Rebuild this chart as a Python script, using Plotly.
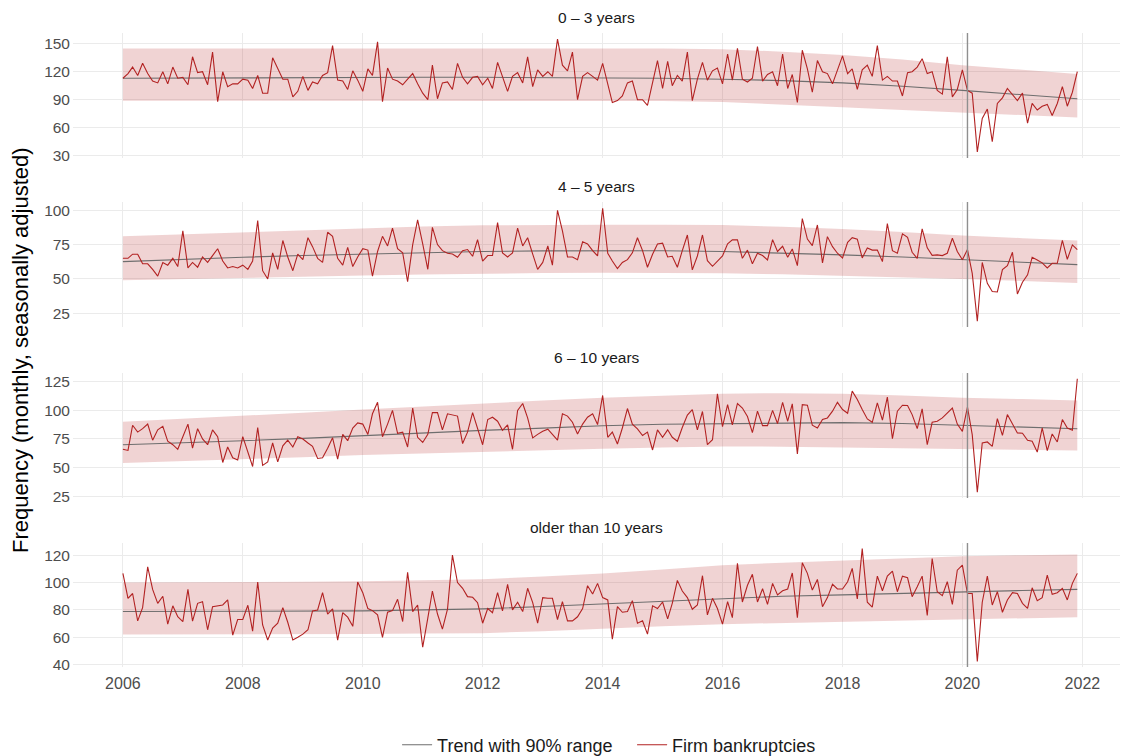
import pandas as pd
import plotly.graph_objects as go
from plotly.subplots import make_subplots

# Monthly observation dates, Jan 2006 - Dec 2021
months = pd.date_range("2006-01-01", periods=192, freq="MS")

# Knot dates at which the fitted trend and its 90% range are given
trend_dates = [f"{y}-01-01" for y in range(2006, 2022)] + ["2021-12-01"]

panel_titles = ["0 – 3 years", "4 – 5 years", "6 – 10 years", "older than 10 years"]

# Firm bankruptcies by firm age (monthly, seasonally adjusted)
bk_age_0_3 = [
    113, 118, 125, 116, 129, 118, 110, 108, 120, 107, 125, 113,
    114, 106, 136, 119, 120, 106, 141, 88, 120, 104, 107, 107,
    112, 111, 102, 116, 97, 97, 135, 124, 112, 112, 93, 99,
    115, 100, 109, 107, 116, 119, 148, 111, 110, 101, 121, 111,
    99, 123, 116, 152, 88, 124, 112, 110, 106, 112, 118, 107,
    97, 90, 127, 91, 108, 109, 101, 129, 114, 107, 114, 115,
    106, 113, 102, 130, 114, 99, 115, 119, 108, 136, 104, 122,
    115, 120, 115, 155, 127, 121, 141, 90, 115, 119, 115, 111,
    129, 108, 87, 89, 94, 108, 110, 90, 90, 84, 108, 132,
    102, 131, 105, 116, 110, 141, 89, 112, 130, 111, 121, 124,
    107, 139, 111, 145, 112, 109, 113, 147, 110, 117, 120, 105,
    139, 102, 117, 87, 143, 123, 98, 132, 120, 118, 107, 122,
    137, 118, 123, 101, 122, 127, 115, 148, 111, 115, 110, 110,
    94, 119, 120, 125, 134, 118, 120, 100, 96, 136, 93, 101,
    122, 100, 97, 34, 70, 80, 45, 86, 92, 102, 96, 89,
    97, 65, 86, 79, 83, 85, 73, 86, 104, 83, 98, 120,
]
bk_age_4_5 = [
    65, 65, 68, 68, 61, 61, 57, 52, 62, 60, 65, 59,
    85, 58, 62, 58.5, 66, 62, 67, 72, 63, 58, 59, 58,
    60, 57, 63, 92.5, 56, 50, 69, 57, 78, 66, 56, 68,
    64, 80, 73.5, 65, 62, 84, 81, 65, 60, 73, 59, 66,
    72, 71, 52, 70, 81, 74, 87, 72, 69, 48, 75, 93,
    75.5, 57, 87.6, 75, 70.6, 68.7, 68.2, 65.8, 70.6, 71.4, 66.5, 78.6,
    63, 67, 67, 91, 69, 66, 69, 87, 74, 80, 68, 57,
    62, 74, 60, 100, 85, 66, 66, 64, 77, 75.5, 70.6, 66.7,
    101.5, 68.7, 63, 57.5, 62, 64, 69, 80, 70.6, 58.5, 68, 75.5,
    76, 66, 66.5, 58.5, 70.6, 82, 56.6, 66.7, 82, 63.3, 59.2, 63,
    66.7, 75.5, 78.4, 78.4, 65, 71, 61, 68.7, 67, 63.8, 78.6, 70,
    73.8, 65.8, 71.8, 59.7, 93.9, 79, 74.3, 89.3, 61.7, 80.8, 73.5, 68.7,
    65.3, 76.7, 80, 79, 65.3, 72.6, 71, 71, 62.6, 90.3, 70.6, 68.7,
    82.8, 80.3, 69.4, 65, 86.4, 72.6, 67.2, 67.5, 67, 68.7, 79.6, 70,
    64, 71.4, 54, 19.2, 62, 46.8, 40.8, 40.5, 56.8, 59.7, 69.4, 39,
    47.6, 53, 65.8, 63.8, 61.7, 58, 61.4, 61.4, 78, 64.3, 74.8, 71.4,
]
bk_age_6_10 = [
    66, 65, 87, 81, 84, 88, 74, 83, 86, 73, 70, 66,
    77, 88, 67, 84, 75, 70, 83, 77, 54.5, 68, 58.6, 56.6,
    77, 64, 51, 85, 52, 55, 71.5, 55, 69, 74, 68, 77,
    75, 71.5, 68.6, 58, 58.6, 67, 76, 57.5, 79, 73.5, 84.6, 89,
    88, 79, 97, 107, 77, 88, 100, 80, 81, 68, 102, 76.5,
    72, 79, 98, 98, 83, 97, 96, 95, 71, 81, 98, 85,
    70, 92, 94, 90.5, 82.6, 87.3, 66, 100, 106, 93.4, 76, 79,
    81.7, 83.5, 79, 74, 97, 95, 89.6, 79.4, 88, 94, 97, 87.6,
    113, 76.5, 81, 70.6, 84.6, 101.6, 88, 83.8, 78, 81, 65.4, 83,
    76.5, 83, 76.5, 73, 85, 95.8, 100.7, 83, 99, 70, 74.4, 114.5,
    85.8, 105, 87.3, 106, 102, 94.6, 80.6, 99.3, 86.7, 86.7, 100, 88.5,
    107, 90.5, 105.7, 62, 105, 104.5, 87, 84.6, 92, 93.4, 99.3, 107,
    100.7, 97.5, 116.8, 109.5, 100.7, 92.5, 89.6, 106.6, 91.4, 111.5, 75.3, 99.3,
    104.5, 104.2, 96.3, 84, 101.3, 70, 89.6, 90.5, 93.4, 97.8, 102, 88,
    81.7, 102.8, 78.8, 28.5, 71.5, 72.4, 68.6, 92.8, 78.2, 96.3, 87.6, 80.3,
    80, 73.8, 73, 63.6, 84.6, 64.8, 79.4, 72.4, 92, 84.6, 82.6, 127.6,
]
bk_age_over_10 = [
    106.7, 88.5, 92, 72, 81.7, 111.5, 95, 84.8, 90, 69.6, 83, 75,
    71.5, 95, 71.8, 84.8, 86, 65.5, 82.4, 83, 83.6, 87.3, 61.6, 73,
    73, 83.4, 64.5, 100.4, 69, 58, 66.7, 70.3, 81.7, 71, 58, 60,
    62.3, 65.5, 79.3, 80, 92.6, 77, 80.7, 58, 78, 74.7, 68, 100.4,
    92.6, 81, 79.5, 76.4, 60, 78.3, 79.5, 87.8, 71.5, 107.4, 78.8, 83.6,
    52.8, 74, 93.8, 77, 66, 80.5, 120, 100, 95.8, 89.7, 89.2, 85.3,
    70.3, 81, 78, 92.6, 79.3, 98.7, 80, 85.6, 78.8, 95.8, 85.3, 70.3,
    89, 88.5, 88.5, 73, 86, 72, 72, 75, 81, 97.7, 91.6, 99.4,
    89, 87.3, 58.7, 82.4, 78.3, 78.8, 86.8, 70.3, 72, 62.3, 83, 81,
    85.8, 73.5, 84.8, 101.6, 93.8, 89, 80.5, 83.6, 105, 76.4, 88.5, 81,
    69.6, 86, 74.4, 114, 85.8, 98, 106, 85.8, 95.5, 84, 99.4, 91,
    94, 95.3, 107, 74.4, 114.4, 106.7, 94.5, 102.3, 82.4, 89, 98.7, 95.3,
    95.3, 100.6, 110.3, 88, 124.8, 85.6, 82, 104.7, 94, 104.7, 108.4, 93.3,
    104.7, 103.5, 89.7, 97, 104.7, 76, 117.6, 93.3, 90.4, 100.6, 84, 109,
    112.7, 92, 92, 42.4, 85.6, 104.7, 83.6, 93.3, 78.3, 87.3, 92.6, 92,
    84.8, 81.2, 96.2, 86.8, 89, 105.5, 91.4, 92.6, 95.8, 87.3, 99.4, 106.7,
]

# Fitted trend with lower / upper bound of the 90% range
trend_0_3 = [113, 113.3, 113.6, 113.8, 114, 114, 114, 113.8, 113.5, 113, 112, 110.5, 108, 104.5, 100, 95.5, 91]
upper_0_3 = [145, 145, 145.2, 145.3, 145.4, 145.4, 145.4, 145.3, 145.2, 145, 144, 141.5, 138, 133, 127, 122, 117.5]
lower_0_3 = [89, 89, 89, 89.1, 89.2, 89.2, 89.2, 89, 88.8, 88.5, 87.5, 85, 82, 79, 76, 73.5, 71]

trend_4_5 = [62.6, 64.3, 65.8, 67.1, 68.2, 69.2, 70, 70.4, 70.6, 70.5, 70, 69, 67.5, 66, 64, 62.2, 60.4]
upper_4_5 = [81, 82.5, 84, 85.6, 87.1, 88.2, 89, 89.4, 89.5, 89.5, 89.3, 88, 86.4, 84.2, 81.6, 79.7, 77.9]
lower_4_5 = [49, 50, 51, 51.8, 52.5, 53.2, 54, 54.3, 54.5, 54.5, 54.2, 53.4, 52.4, 51.2, 50, 48.5, 47]

trend_6_10 = [70, 71.5, 73.5, 75.5, 78, 80.5, 82.5, 84.5, 86.5, 87.8, 88.5, 89, 89.3, 88.5, 87, 85.5, 84]
upper_6_10 = [90, 92.5, 95, 98, 100.7, 103.5, 106, 108.5, 111, 113, 114.5, 115, 114.5, 113, 111, 109.8, 108.6]
lower_6_10 = [54, 55.5, 57, 59, 61, 62.5, 63.5, 65, 66.5, 67.5, 68.5, 68.3, 67.7, 67, 66.5, 65.8, 65]

trend_over_10 = [78.8, 78.8, 78.8, 79, 79.3, 80, 80.8, 82.5, 84.5, 86.5, 88.5, 90, 91, 92.2, 93.3, 94.2, 95]
upper_over_10 = [100, 100, 100, 100.5, 101, 101.8, 102.5, 104.5, 106.7, 109.5, 112.7, 114.5, 116, 117.7, 119.3, 120, 120.5]
lower_over_10 = [62, 62, 62, 62.2, 62.5, 62.8, 63, 64.5, 66, 68, 69.6, 70.5, 71.5, 72.5, 73.5, 74, 74.7]

# Axis ticks per panel
yticks = [[30, 60, 90, 120, 150], [25, 50, 75, 100], [25, 50, 75, 100, 125], [40, 60, 80, 100, 120]]
tick_years = [2006, 2008, 2010, 2012, 2014, 2016, 2018, 2020, 2022]
break_date = "2020-02-01"

series = [bk_age_0_3, bk_age_4_5, bk_age_6_10, bk_age_over_10]
trends = [trend_0_3, trend_4_5, trend_6_10, trend_over_10]
uppers = [upper_0_3, upper_4_5, upper_6_10, upper_over_10]
lowers = [lower_0_3, lower_4_5, lower_6_10, lower_over_10]

RED = "#b22222"
BAND = "rgba(178, 34, 34, 0.2)"
TREND = "#6e6e6e"
GRID = "#ebebeb"

yranges = [[27.5, 161.5], [15, 106], [23.5, 132.6], [38.3, 128.9]]
ydomains = [[0.8028, 1.0], [0.5363, 0.7334], [0.2666, 0.4637], [0.0, 0.1956]]

fig = make_subplots(rows=4, cols=1, shared_xaxes=True, vertical_spacing=0.05)

for k in range(4):
    r = k + 1
    fig.add_trace(go.Scatter(x=trend_dates, y=lowers[k], mode="lines", line=dict(width=0),
                             hoverinfo="skip", showlegend=False), row=r, col=1)
    fig.add_trace(go.Scatter(x=trend_dates, y=uppers[k], mode="lines", line=dict(width=0),
                             fill="tonexty", fillcolor=BAND, hoverinfo="skip", showlegend=False),
                  row=r, col=1)
    fig.add_trace(go.Scatter(x=trend_dates, y=trends[k], mode="lines",
                             line=dict(color=TREND, width=1.1),
                             name="Trend with 90% range", legendgroup="trend",
                             showlegend=(k == 0)), row=r, col=1)
    fig.add_trace(go.Scatter(x=months, y=series[k], mode="lines",
                             line=dict(color=RED, width=1.1),
                             name="Firm bankruptcies", legendgroup="bk",
                             showlegend=(k == 0)), row=r, col=1)

    yname = "yaxis" if k == 0 else f"yaxis{r}"
    fig.layout[yname].update(domain=ydomains[k], range=yranges[k], tickvals=yticks[k],
                             showgrid=True, gridcolor=GRID, gridwidth=1, zeroline=False,
                             showline=False, ticks="", ticklabelstandoff=2,
                             tickfont=dict(size=15.5, color="#4d4d4d"))
    xname = "xaxis" if k == 0 else f"xaxis{r}"
    fig.layout[xname].update(range=["2005-03-03", "2022-08-18"],
                             tickvals=[f"{y}-01-01" for y in tick_years],
                             ticktext=[str(y) for y in tick_years],
                             showgrid=True, gridcolor=GRID, gridwidth=1, zeroline=False,
                             showline=False, ticks="", ticklabelstandoff=5,
                             tickfont=dict(size=16, color="#4d4d4d"))

    yref = "y domain" if k == 0 else f"y{r} domain"
    xref = "x" if k == 0 else f"x{r}"
    fig.add_shape(type="line", xref=xref, yref=yref, x0=break_date, x1=break_date,
                  y0=0, y1=1, line=dict(color="#8f8f8f", width=1.4))

    fig.add_annotation(text=panel_titles[k], xref="paper", yref="paper",
                       x=0.5, y=ydomains[k][1] + 0.025, xanchor="center", yanchor="middle",
                       showarrow=False, font=dict(size=15.5, color="#1a1a1a"))

fig.add_annotation(text="Frequency (monthly, seasonally adjusted)", xref="paper", yref="paper",
                   x=-0.0506, y=0.5, xanchor="center", yanchor="middle", textangle=-90,
                   showarrow=False, font=dict(size=22, color="#000000"))

fig.update_layout(
    width=1127, height=756,
    margin=dict(l=73, r=7, t=33, b=89, autoexpand=False),
    paper_bgcolor="white", plot_bgcolor="white",
    font=dict(family="Liberation Sans, Arial, sans-serif"),
    legend=dict(orientation="h", x=0.534, xanchor="center", y=-0.123, yanchor="middle",
                entrywidth=190, entrywidthmode="pixels",
                font=dict(size=18, color="#1a1a1a")),
    hovermode=False,
)

fig.write_html("out.html")
